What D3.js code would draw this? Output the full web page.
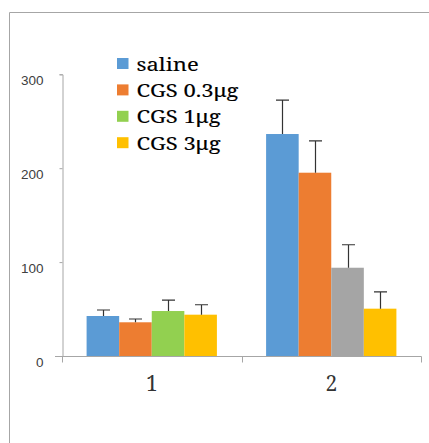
<!DOCTYPE html>
<html>
<head>
<meta charset="utf-8">
<script src="https://cdn.jsdelivr.net/npm/d3@7"></script>
<style>
  html, body { margin: 0; padding: 0; background: #fff; }
  svg { display: block; }
</style>
</head>
<body>
<svg id="chart" width="429" height="443"></svg>
<script>
// Categories, series and values
const categories = ["1", "2"];
const seriesNames = ["saline", "CGS 0.3μg", "CGS 1μg", "CGS 3μg"];
const saline   = [42.6, 236.4];
const cgs03    = [35.9, 195.2];
const cgs1     = [47.9, 94.0];
const cgs3     = [44.0, 50.4];
const salineErr = [6.4, 36.2];
const cgs03Err  = [3.5, 33.8];
const cgs1Err   = [11.7, 24.5];
const cgs3Err   = [10.6, 17.8];
const yTicks = [0, 100, 200, 300];

// Fill colours: legend swatches, and per-category bar fills
const legendColors = ["#5B9BD5", "#ED7D31", "#92D050", "#FFC000"];
const barColors = [
  ["#5B9BD5", "#ED7D31", "#92D050", "#FFC000"],
  ["#5B9BD5", "#ED7D31", "#A5A5A5", "#FFC000"]
];

const values = [saline, cgs03, cgs1, cgs3];
const errors = [salineErr, cgs03Err, cgs1Err, cgs3Err];

const serifFont = "'Noto Serif', 'Liberation Serif', serif";
const svg = d3.select("#chart");

// outer frame
svg.append("path")
  .attr("d", "M9.5,443 V12.5 H429")
  .attr("fill", "none")
  .attr("stroke", "#a6a6a6")
  .attr("stroke-width", 1);

const plot = { left: 62, right: 421, top: 74.3, bottom: 356 };

const x = d3.scaleBand().domain(categories).range([plot.left, plot.right]).padding(0);
const xInner = d3.scaleBand().domain(d3.range(seriesNames.length))
  .range([0, x.bandwidth()]).paddingInner(0).paddingOuter(0.755);
const y = d3.scaleLinear().domain([0, 300]).range([plot.bottom, plot.top]);

// y axis
const yAxis = d3.axisLeft(y).tickValues(yTicks).tickSize(3).tickPadding(0).tickFormat(d3.format("d"));
const gy = svg.append("g").attr("transform", `translate(${plot.left + 0.5},0)`).call(yAxis);
gy.select(".domain").attr("stroke", "#a6a6a6").attr("d", `M-3,${y(300) + 0.5}H0.5V${y(0) + 0.5}`);
gy.selectAll(".tick line").attr("stroke", "#a6a6a6");
gy.selectAll(".tick text")
  .attr("x", -19)
  .attr("dy", "0.78em")
  .attr("fill", "#404040")
  .style("font-family", "'Liberation Sans', Arial, sans-serif")
  .style("font-size", "13.5px");

// x axis
const gx = svg.append("g").attr("transform", `translate(0,${plot.bottom + 0.5})`);
gx.append("line").attr("x1", 55).attr("x2", plot.right + 0.5).attr("y1", 0).attr("y2", 0)
  .attr("stroke", "#a6a6a6");
const bounds = [plot.left, ...categories.map(c => x(c) + x.bandwidth())];
gx.selectAll("line.bound").data(bounds).join("line")
  .attr("class", "bound")
  .attr("x1", d => Math.round(d) + 0.5).attr("x2", d => Math.round(d) + 0.5)
  .attr("y1", 0).attr("y2", 6)
  .attr("stroke", "#a6a6a6");
gx.selectAll("text").data(categories).join("text")
  .attr("x", d => x(d) + x.bandwidth() / 2)
  .attr("y", 34.5)
  .attr("text-anchor", "middle")
  .attr("fill", "#333")
  .style("font-family", serifFont)
  .style("font-size", "21px")
  .text(d => d);

// bars
const bars = [];
categories.forEach((c, ci) => {
  seriesNames.forEach((s, si) => {
    bars.push({ c, ci, si, v: values[si][ci], e: errors[si][ci] });
  });
});

svg.append("g").selectAll("rect").data(bars).join("rect")
  .attr("x", d => x(d.c) + xInner(d.si))
  .attr("width", xInner.bandwidth())
  .attr("y", d => y(d.v))
  .attr("height", d => y(0) - y(d.v))
  .attr("fill", d => barColors[d.ci][d.si]);

// error bars (upper only)
const capW = 13;
const eg = svg.append("g").attr("stroke", "#333").attr("stroke-width", 1.2).attr("fill", "none");
eg.selectAll("path").data(bars).join("path")
  .attr("d", d => {
    const cx = Math.round(x(d.c) + xInner(d.si) + xInner.bandwidth() / 2) + 0.5;
    const top = y(d.v + d.e);
    return `M${cx},${y(d.v)}V${top}M${cx - capW / 2},${top}H${cx + capW / 2}`;
  });

// legend
const legend = svg.append("g").attr("transform", "translate(117,63.5)");
const rowH = 26.4;
legend.selectAll("rect").data(seriesNames).join("rect")
  .attr("x", 0).attr("y", (d, i) => i * rowH - 5.5)
  .attr("width", 11.5).attr("height", 11)
  .attr("fill", (d, i) => legendColors[i]);
const labels = legend.selectAll("text").data(seriesNames).join("text")
  .attr("fill", "#000")
  .attr("stroke", "#000")
  .attr("stroke-width", 0.12)
  .style("font-family", serifFont)
  .style("font-size", "18.5px")
  .text(d => d);
// widen the serif face slightly so the longest entry spans ~102px
const longest = d3.max(labels.nodes(), n => n.getComputedTextLength());
const sx = longest > 0 ? Math.min(1.25, Math.max(0.9, 102 / longest)) : 1;
labels.attr("transform", (d, i) => `translate(19.5,${i * rowH + 7}) scale(${sx},1)`);
</script>
</body>
</html>
